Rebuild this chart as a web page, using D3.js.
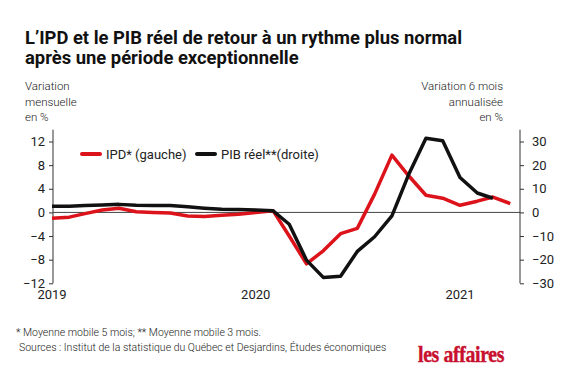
<!DOCTYPE html>
<html>
<head>
<meta charset="utf-8">
<script src="https://cdn.jsdelivr.net/npm/d3@7"></script>
<style>
  body { margin: 0; background: #fff; }
  text { font-family: Roboto, "Liberation Sans", sans-serif; }
</style>
</head>
<body>
<div id="chart"></div>
<script>
// months, Jan 2019 .. Apr 2021
var months = ["2019-01","2019-02","2019-03","2019-04","2019-05","2019-06","2019-07","2019-08","2019-09","2019-10","2019-11","2019-12",
              "2020-01","2020-02","2020-03","2020-04","2020-05","2020-06","2020-07","2020-08","2020-09","2020-10","2020-11","2020-12",
              "2021-01","2021-02","2021-03","2021-04"];

// IPD*, left axis (variation mensuelle, %)
var ipd = [-1.0, -0.8, -0.2, 0.4, 0.7, 0.1, 0.0, -0.1, -0.6, -0.7, -0.5, -0.3,
           0.0, 0.3, -4.0, -8.7, -6.5, -3.6, -2.7, 3.1, 9.7, 6.2, 2.9, 2.4,
           1.2, 1.9, 2.6, 1.5];

// PIB réel**, right axis (variation 6 mois annualisée, %)
var pib = [2.6, 2.6, 2.9, 3.1, 3.4, 3.0, 2.9, 2.9, 2.4, 1.8, 1.3, 1.2,
           1.0, 0.7, -5.0, -20.2, -27.5, -27.0, -16.5, -10.3, -1.5, 16.0, 31.4, 30.3,
           14.8, 8.2, 6.0];

var leftTicks = [-12, -8, -4, 0, 4, 8, 12];
var rightTicks = [-30, -20, -10, 0, 10, 20, 30];
var yearTicks = ["2019-01", "2020-01", "2021-01"];

var W = 570, H = 380;
var parse = d3.timeParse("%Y-%m");

var svg = d3.select("#chart").append("svg")
    .attr("width", W)
    .attr("height", H);

var x = d3.scaleTime()
    .domain([parse("2019-01"), parse("2021-01")])
    .range([52, 460]);

var yL = d3.scaleLinear().domain([-12, 14]).range([283.3, 129.7]);
var yR = d3.scaleLinear().domain([-30, 35]).range([283.3, 129.7]);

// title
svg.append("text").attr("x", 25).attr("y", 44)
    .style("font-size", "18.4px").style("font-weight", 700).style("fill", "#111")
    .text("L’IPD et le PIB réel de retour à un rythme plus normal");
svg.append("text").attr("x", 25).attr("y", 64)
    .style("font-size", "18.4px").style("font-weight", 700).style("fill", "#111")
    .text("après une période exceptionnelle");

// axis titles
var lt = svg.append("text")
    .style("font-size", "11.5px").style("font-weight", 300).style("fill", "#222");
["Variation", "mensuelle", "en %"].forEach(function(s, i) {
  lt.append("tspan").attr("x", 25).attr("y", 90 + i * 15.5).text(s);
});
var rt = svg.append("text").attr("text-anchor", "end")
    .style("font-size", "11.5px").style("font-weight", 300).style("fill", "#222");
["Variation 6 mois", "annualisée", "en %"].forEach(function(s, i) {
  rt.append("tspan").attr("x", 503).attr("y", 90 + i * 15.5).text(s);
});

// zero line
svg.append("line")
    .attr("x1", 53).attr("x2", 520)
    .attr("y1", yL(0)).attr("y2", yL(0))
    .style("stroke", "#444").style("stroke-width", 1);

// left axis
var gL = svg.append("g").attr("transform", "translate(53,0)")
    .call(d3.axisLeft(yL).tickValues(leftTicks).tickSize(4).tickPadding(4).tickSizeOuter(0));
// right axis
var gR = svg.append("g").attr("transform", "translate(520,0)")
    .call(d3.axisRight(yR).tickValues(rightTicks).tickSize(4).tickPadding(8).tickSizeOuter(0));

[gL, gR].forEach(function(g) {
  g.select(".domain").style("stroke", "#333");
  g.selectAll(".tick line").style("stroke", "#333");
  g.selectAll(".tick text").style("font-size", "13px").style("fill", "#222")
      .style("font-family", "Roboto, sans-serif");
});
// axis lines end at the bottom tick
gL.select(".domain").attr("d", "M0," + yL(14) + "V" + yL(-12));
gR.select(".domain").attr("d", "M0," + yR(35) + "V" + yR(-30));

// years
svg.append("g").selectAll("text")
    .data(yearTicks)
    .enter().append("text")
    .attr("x", function(d) { return x(parse(d)); })
    .attr("y", 299)
    .attr("text-anchor", "middle")
    .style("font-size", "13px").style("fill", "#222")
    .text(function(d) { return d.slice(0, 4); });

// lines
var lineL = d3.line()
    .x(function(d, i) { return x(parse(months[i])); })
    .y(function(d) { return yL(d); });
var lineR = d3.line()
    .x(function(d, i) { return x(parse(months[i])); })
    .y(function(d) { return yR(d); });

svg.append("path").datum(ipd)
    .attr("d", lineL)
    .style("fill", "none").style("stroke", "#dc131b").style("stroke-width", 3.5)
    .style("stroke-linejoin", "round");
svg.append("path").datum(pib)
    .attr("d", lineR)
    .style("fill", "none").style("stroke", "#111").style("stroke-width", 3.5)
    .style("stroke-linejoin", "round");

// legend
var legend = [
  {label: "IPD* (gauche)", color: "#dc131b", x: 82},
  {label: "PIB réel**(droite)", color: "#111", x: 197}
];
var lg = svg.append("g").selectAll("g")
    .data(legend)
    .enter().append("g")
    .attr("transform", function(d) { return "translate(" + d.x + ",154)"; });
lg.append("line")
    .attr("x1", 0).attr("x2", 18)
    .style("stroke", function(d) { return d.color; })
    .style("stroke-width", 4).style("stroke-linecap", "round");
lg.append("text")
    .attr("x", 24).attr("y", 4.5)
    .style("font-size", "13px").style("fill", "#222")
    .text(function(d) { return d.label; });

// notes
svg.append("text").attr("x", 16).attr("y", 336)
    .style("font-size", "10.5px").style("font-weight", 300).style("fill", "#222")
    .text("* Moyenne mobile 5 mois; ** Moyenne mobile 3 mois.");
svg.append("text").attr("x", 19).attr("y", 351)
    .style("font-size", "10.5px").style("font-weight", 300).style("fill", "#222")
    .text("Sources : Institut de la statistique du Québec et Desjardins, Études économiques");

// logo
svg.append("text")
    .attr("transform", "translate(418,362) scale(0.88,1)")
    .style("font-family", "'Liberation Serif', 'DejaVu Serif', serif")
    .style("font-size", "22.5px").style("font-weight", 700).style("fill", "#c8102e")
    .style("letter-spacing", "-0.4px")
    .style("stroke", "#c8102e").style("stroke-width", 0.4)
    .text("les affaires");
</script>
</body>
</html>
